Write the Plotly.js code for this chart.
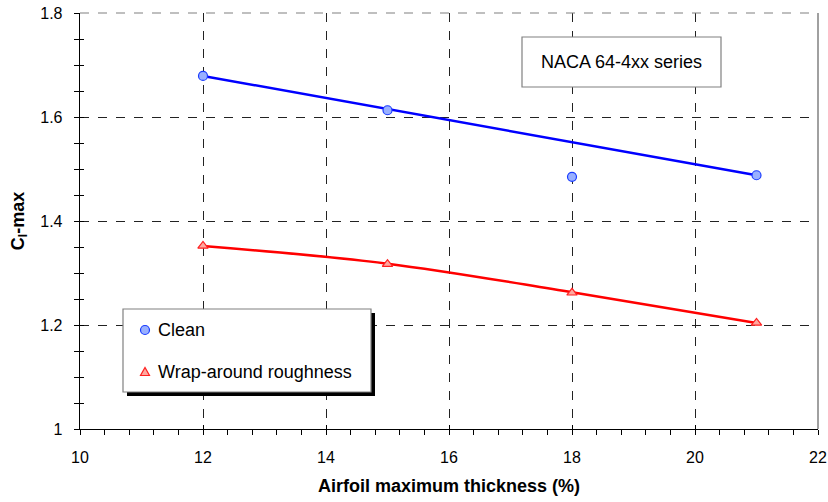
<!DOCTYPE html>
<html>
<head>
<meta charset="utf-8">
<script src="https://cdn.plot.ly/plotly-3.0.1.min.js"></script>
<style>html,body{margin:0;padding:0;background:#fff;}#chart{width:828px;height:502px;}</style>
</head>
<body>
<div id="chart"></div>
<script>
// ---- data ----
const thickness = [12, 15, 18, 21];
const cleanCl = [1.679, 1.613, 1.485, 1.488];
const roughCl = [1.352, 1.317, 1.262, 1.204];
const cleanTrendX = [12, 21];
const cleanTrendY = [1.679, 1.488];
const roughTrendX = [12, 15, 18, 21];
const roughTrendY = [1.352, 1.318, 1.263, 1.204];
const seriesNames = ['Clean', 'Wrap-around roughness'];
const boxLabel = 'NACA 64-4xx series';
const xTitle = 'Airfoil maximum thickness (%)';
const yTitle = 'C<sub>l</sub>-max';

const FONT = 'Liberation Sans, Arial, sans-serif';

// plot area in pixels
const PL = 80, PR = 818, PT = 13, PB = 429;
const px = v => (v - PL) / (PR - PL);
const py = v => (PB - v) / (PB - PT);

// legend box geometry (pixels)
const LG = {left: 123, right: 371, top: 309, bottom: 392, markX: 145, textX: 156, rows: [330, 372], shadow: 4};

const C_FILL = '#99b0ff', C_LINE = '#1a3cff', R_FILL = '#ffa8a0', R_LINE = '#ff2020';
const cleanMarker = {symbol: 'circle', size: 9, color: C_FILL, line: {color: C_LINE, width: 1.2}};
const roughMarker = {symbol: 'triangle-up', size: 9, color: R_FILL, line: {color: R_LINE, width: 1.2}};

const traces = [
  {x: cleanTrendX, y: cleanTrendY, mode: 'lines', line: {color: '#0000ff', width: 2.5}, hoverinfo: 'skip'},
  {x: roughTrendX, y: roughTrendY, mode: 'lines', line: {color: '#ff0000', width: 2.5, shape: 'spline'}, hoverinfo: 'skip'},
  {x: thickness, y: cleanCl, mode: 'markers', name: seriesNames[0], marker: cleanMarker},
  {x: thickness, y: roughCl, mode: 'markers', name: seriesNames[1], marker: roughMarker},
  // overlay axes carrying the inner half of the crossing ticks
  {x: [10], y: [1], xaxis: 'x2', yaxis: 'y2', mode: 'markers', marker: {opacity: 0}, hoverinfo: 'skip'}
];

const axBase = {
  zeroline: false, showline: true, linecolor: '#000', linewidth: 1.3,
  showgrid: true, gridcolor: '#222', griddash: 'dash', gridwidth: 1,
  ticks: 'outside', ticklen: 5, tickcolor: '#000', tickwidth: 1,
  tickfont: {size: 16, family: FONT}, ticklabelstandoff: 8
};

// legend symbols as shapes (so they sit above the legend box)
const r = 4.5;
const cy0 = LG.rows[0], cy1 = LG.rows[1], mx = LG.markX;
const triPath = 'M ' + px(mx - 4.5) + ',' + py(cy1 + 3.5) + ' L ' + px(mx + 4.5) + ',' + py(cy1 + 3.5) +
                ' L ' + px(mx) + ',' + py(cy1 - 4.5) + ' Z';

const layout = {
  width: 828, height: 502,
  margin: {l: PL, r: 828 - PR, t: PT, b: 502 - PB},
  paper_bgcolor: '#fff', plot_bgcolor: '#fff',
  font: {family: FONT, color: '#000', size: 16},
  showlegend: false,
  xaxis: Object.assign({}, axBase, {
    range: [10, 22], dtick: 2, tick0: 10,
    minor: {dtick: 0.4, tick0: 10, ticks: 'outside', ticklen: 5, tickcolor: '#000', showgrid: false},
    title: {text: xTitle, font: {size: 18, family: FONT, weight: 'bold'}, standoff: 15}
  }),
  yaxis: Object.assign({}, axBase, {
    range: [1, 1.8], dtick: 0.2, tick0: 1,
    minor: {dtick: 0.05, tick0: 1, ticks: 'outside', ticklen: 5, tickcolor: '#000', showgrid: false},
    title: {text: yTitle, font: {size: 18, family: FONT, weight: 'bold'}, standoff: 11}
  }),
  xaxis2: {overlaying: 'x', range: [10, 22], dtick: 2, tick0: 10, showgrid: false, zeroline: false,
    showticklabels: false, ticks: 'inside', ticklen: 4, tickcolor: '#000', side: 'bottom', anchor: 'y2'},
  yaxis2: {overlaying: 'y', range: [1, 1.8], dtick: 0.2, tick0: 1, showgrid: false, zeroline: false,
    showticklabels: false, ticks: 'inside', ticklen: 4, tickcolor: '#000', side: 'left', anchor: 'x2',
    minor: {dtick: 0.05, tick0: 1, ticks: 'inside', ticklen: 4, tickcolor: '#000', showgrid: false}},
  shapes: [
    // top dashed line at 1.8 and right frame
    {type: 'line', xref: 'paper', yref: 'paper', x0: 0, x1: 1, y0: 1, y1: 1, line: {color: '#808080', width: 1.2, dash: 'dash'}},
    {type: 'line', xref: 'paper', yref: 'paper', x0: 1, x1: 1, y0: 0, y1: 1, line: {color: '#808080', width: 1.5}},
    // series label box
    {type: 'rect', xref: 'paper', yref: 'paper', x0: px(522), x1: px(721), y0: py(87), y1: py(37),
     line: {color: '#808080', width: 1.2}, fillcolor: '#fff', layer: 'above'},
    // legend shadow + box
    {type: 'rect', xref: 'paper', yref: 'paper', x0: px(LG.left + LG.shadow), x1: px(LG.right + LG.shadow),
     y0: py(LG.bottom + LG.shadow), y1: py(LG.top + LG.shadow), line: {width: 0}, fillcolor: '#000', layer: 'above'},
    {type: 'rect', xref: 'paper', yref: 'paper', x0: px(LG.left), x1: px(LG.right), y0: py(LG.bottom), y1: py(LG.top),
     line: {color: '#808080', width: 1.2}, fillcolor: '#fff', layer: 'above'},
    // legend symbols
    {type: 'circle', xref: 'paper', yref: 'paper', x0: px(mx - r), x1: px(mx + r), y0: py(cy0 + r), y1: py(cy0 - r),
     line: {color: C_LINE, width: 1.2}, fillcolor: C_FILL, layer: 'above'},
    {type: 'path', xref: 'paper', yref: 'paper', path: triPath,
     line: {color: R_LINE, width: 1.2}, fillcolor: R_FILL, layer: 'above'}
  ],
  annotations: [
    {xref: 'paper', yref: 'paper', x: px(621), y: py(62), text: boxLabel, showarrow: false,
     font: {size: 18, family: FONT}, xanchor: 'center', yanchor: 'middle'},
    {xref: 'paper', yref: 'paper', x: px(LG.textX), y: py(LG.rows[0]), text: seriesNames[0], showarrow: false,
     font: {size: 18, family: FONT}, xanchor: 'left', yanchor: 'middle'},
    {xref: 'paper', yref: 'paper', x: px(LG.textX), y: py(LG.rows[1]), text: seriesNames[1], showarrow: false,
     font: {size: 18, family: FONT}, xanchor: 'left', yanchor: 'middle'}
  ]
};

Plotly.newPlot('chart', traces, layout, {displayModeBar: false, staticPlot: true});
</script>
</body>
</html>
